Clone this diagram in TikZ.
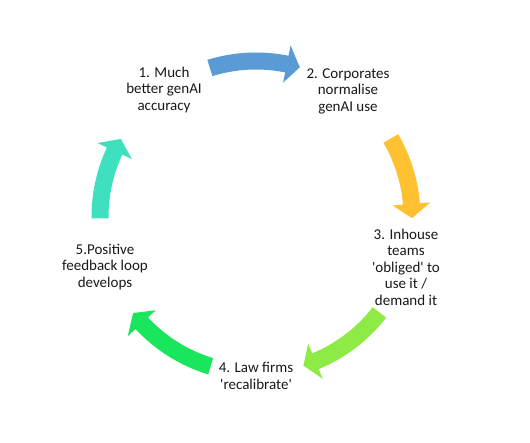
\documentclass[tikz,border=0pt]{standalone}
\usepackage{fontspec}
\setmainfont{Carlito}
\definecolor{cblue}{HTML}{5B9BD5}
\definecolor{corange}{HTML}{FFC12F}
\definecolor{clime}{HTML}{8EEB45}
\definecolor{cgreen}{HTML}{19E65C}
\definecolor{cteal}{HTML}{3FE0C0}
\newcommand\cycarrow[5]{% colour, tail angle, head-base angle, tip angle, radius
  \pgfmathsetmacro\rOut{#5+8.5}%
  \pgfmathsetmacro\rIn{#5-8.5}%
  \pgfmathsetmacro\hOut{#5+19}%
  \pgfmathsetmacro\hIn{#5-19}%
  \fill[#1] (#2:\rOut pt) arc[start angle=#2, end angle=#3, radius=\rOut pt]
    -- (#3:\hOut pt) -- (#4:#5pt) -- (#3:\hIn pt)
    -- (#3:\rIn pt) arc[start angle=#3, end angle=#2, radius=\rIn pt] -- cycle;
}
\newcommand\sq{\textquotesingle}
\tikzset{
  lbl/.style={align=center, text=black!90, inner sep=0pt,
    font=\fontsize{15}{16.5}\selectfont}
}
\begin{document}
\begin{tikzpicture}
\fill[white] (0pt,0pt) rectangle (530pt,442pt);
\useasboundingbox (0pt,0pt) rectangle (530pt,442pt);
\begin{scope}[shift={(256pt,225pt)}]
  \cycarrow{cblue}{107.2}{78.6}{73.7}{156}
  \cycarrow{corange}{30.2}{4.8}{-0.4}{156}
  \cycarrow{clime}{-37.7}{-67.6}{-72.3}{156}
  \cycarrow{cgreen}{-106.9}{-137.1}{-142.0}{156}
  \cycarrow{cteal}{180.5}{155.0}{150.0}{156}
\end{scope}
\node[lbl] (s1) at (164pt,352pt) {1. Much\\better genAI\\accuracy};
\node[lbl] (s2) at (348pt,351pt) {2. Corporates\\normalise\\genAI use};
\node[lbl] (s3) at (406pt,175pt) {3. Inhouse\\teams\\\sq obliged\sq{} to\\use it /\\demand it};
\node[lbl] (s4) at (256pt,66pt) {4. Law firms\\\sq recalibrate\sq};
\node[lbl] (s5) at (105pt,175pt) {5.Positive\\feedback loop\\develops};
\end{tikzpicture}
\end{document}
